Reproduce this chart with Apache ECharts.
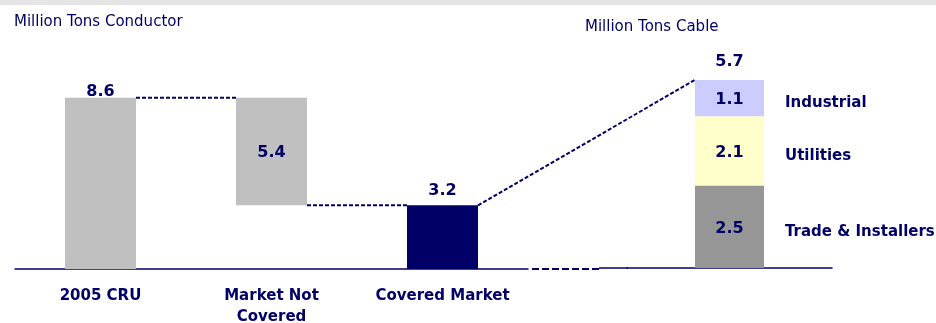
<!DOCTYPE html>
<html><head><meta charset="utf-8">
<script src="https://cdn.jsdelivr.net/npm/echarts@6/dist/echarts.min.js"></script>
<style>html,body{margin:0;padding:0;background:#fff}#c{width:936px;height:323px}</style>
</head><body><div id="c"></div><script>
// ---- data ----
const categories = ['2005 CRU', 'Market Not\nCovered', 'Covered Market'];
const waterfallValues = [8.6, 5.4, 3.2];
const waterfallBase = [0, 3.2, 0];
const cableCategory = ['Cable'];
const segmentNames = ['Trade & Installers', 'Utilities', 'Industrial'];
const segmentValues = [2.5, 2.1, 1.1];
const cableTotal = 5.7;

// ---- style ----
const NAVY = '#000066';
const FONT = 'DejaVu Sans';
const leftColors = ['#c0c0c0', '#c0c0c0', '#000066'];
const segColors = ['#969696', '#ffffcc', '#ccccff'];
const leftLabelPos = [{position: 'top', distance: -2}, {position: 'inside', offset: [0, 1]}, {position: 'top', distance: 6}];
const boldText = {fontFamily: FONT, fontWeight: 'bold', fontSize: 16, color: NAVY, opacity: 1};

const segMid = [];
let acc = 0;
segmentValues.forEach(v => { segMid.push(acc + v / 2); acc += v; });

const chart = echarts.init(document.getElementById('c'));
const option = {
  animation: false,
  title: [
    {text: 'Million Tons Conductor', left: 9, top: 10, textStyle: {fontFamily: FONT, fontSize: 15, fontWeight: 'normal', color: NAVY}},
    {text: 'Million Tons Cable', left: 580, top: 15, textStyle: {fontFamily: FONT, fontSize: 15, fontWeight: 'normal', color: NAVY}}
  ],
  grid: [
    {left: 15, width: 513, top: 70, bottom: 54, outerBoundsMode: 'none', containLabel: false},
    {left: 627, width: 205, top: 70, bottom: 55, outerBoundsMode: 'none', containLabel: false}
  ],
  xAxis: [
    {gridIndex: 0, type: 'category', data: categories,
     axisLine: {lineStyle: {color: NAVY, width: 1.5}}, axisTick: {show: false},
     axisLabel: {interval: 0, margin: 17, fontFamily: FONT, fontWeight: 'bold', fontSize: 15, color: NAVY, lineHeight: 21}},
    {gridIndex: 1, type: 'category', data: cableCategory,
     axisLine: {lineStyle: {color: NAVY, width: 1.5}}, axisTick: {show: false}, axisLabel: {show: false}}
  ],
  yAxis: [
    {gridIndex: 0, type: 'value', min: 0, max: 10, show: false},
    {gridIndex: 1, type: 'value', min: 0, max: 6, show: false}
  ],
  series: [
    {type: 'bar', xAxisIndex: 0, yAxisIndex: 0, stack: 'w', barWidth: 71, silent: true,
     data: waterfallBase, itemStyle: {color: 'transparent'}},
    {type: 'bar', xAxisIndex: 0, yAxisIndex: 0, stack: 'w', barWidth: 71,
     data: waterfallValues.map((v, i) => ({value: v, itemStyle: {color: leftColors[i]}, label: Object.assign({show: true}, leftLabelPos[i])})),
     label: Object.assign({}, boldText)},
    ...segmentNames.map((n, i) => ({
      type: 'bar', name: n, xAxisIndex: 1, yAxisIndex: 1, stack: 'c', barWidth: 69,
      data: [segmentValues[i]], itemStyle: {color: segColors[i]},
      label: Object.assign({show: true, position: 'inside', offset: [0, 2]}, boldText)
    })),
    {type: 'scatter', xAxisIndex: 1, yAxisIndex: 1, symbolSize: 1, itemStyle: {color: 'rgba(0,0,0,0)', opacity: 1},
     data: [[0, cableTotal]],
     label: Object.assign({show: true, position: 'top', distance: 10, formatter: () => cableTotal.toFixed(1)}, boldText)},
    {type: 'scatter', xAxisIndex: 1, yAxisIndex: 1, symbolSize: 1, itemStyle: {color: 'rgba(0,0,0,0)', opacity: 1},
     data: segMid.map((m, i) => ({value: [0, m], name: segmentNames[i]})),
     label: {show: true, position: 'right', distance: 55, offset: [0, 5], formatter: p => p.name, opacity: 1,
             fontFamily: FONT, fontWeight: 'bold', fontSize: 15, color: NAVY}}
  ]
};
chart.setOption(option);

// connectors computed through the library's scales
const half0 = 35.5, half1 = 34.5;
const px = (si, x, y) => chart.convertToPixel({seriesIndex: si}, [x, y]);
const tops = waterfallBase.map((b, i) => b + waterfallValues[i]);
const dash = {stroke: NAVY, lineWidth: 2, lineDash: [4, 2]};
const seg = (a, b) => ({type: 'line', shape: {x1: a[0], y1: a[1], x2: b[0], y2: b[1]}, style: dash, silent: true});
const a1 = px(1, 0, tops[0]), b1 = px(1, 1, tops[1]);
const a2 = px(1, 1, waterfallBase[1]), b2 = px(1, 2, tops[2]);
const b3 = px(2, 0, cableTotal);
const base0 = px(1, 0, 0)[1], base1 = px(2, 0, 0)[1];
chart.setOption({
  graphic: [
    {type: 'rect', shape: {x: 0, y: 0, width: 936, height: 5}, style: {fill: '#e5e5e5'}, silent: true},
    seg([a1[0] + half0, a1[1]], [b1[0] - half0, b1[1]]),
    seg([a2[0] + half0, a2[1]], [b2[0] - half0, b2[1]]),
    seg([b2[0] + half0, b2[1]], [b3[0] - half1, b3[1]]),
    {type: 'line', shape: {x1: 532, y1: base0, x2: 599, y2: base0}, style: {stroke: NAVY, lineWidth: 2, lineDash: [7, 3]}, silent: true},
    {type: 'line', shape: {x1: 599, y1: base1, x2: 628, y2: base1}, style: {stroke: NAVY, lineWidth: 1.5}, silent: true}
  ]
});
</script></body></html>
